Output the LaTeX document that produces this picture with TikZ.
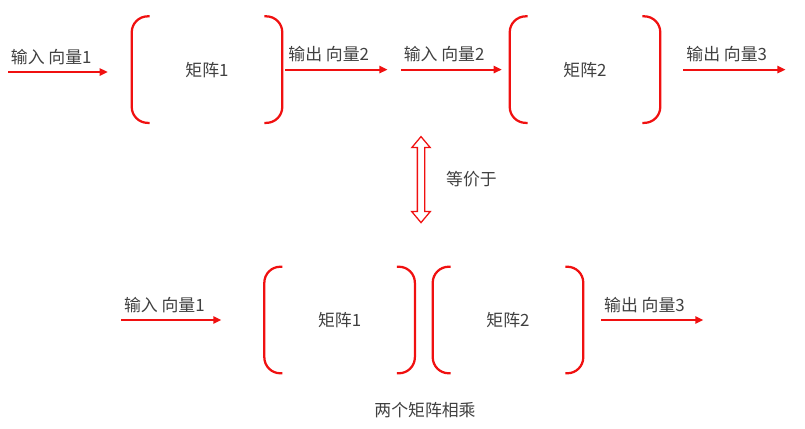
\documentclass[tikz,border=0pt]{standalone}
\usepackage{fontspec}
\newfontfamily\cjk{Noto Sans CJK SC}
\definecolor{ink}{HTML}{404040}
\definecolor{redc}{HTML}{F01010}
\usetikzlibrary{arrows.meta,positioning,calc,shapes.arrows}

\begin{document}
\begin{tikzpicture}[every node/.style={font=\cjk\fontsize{12}{14}\selectfont,text=ink}]
\tikzstyle{mat}=[minimum width=3.75cm,minimum height=2.65cm,inner sep=0pt]
\tikzstyle{vec}=[-{Triangle[length=2mm,width=1.8mm]},line width=1.3pt,redc]
\tikzstyle{lbl}=[above right,inner sep=0pt,yshift=1.6mm,xshift=0.5mm]
\useasboundingbox (0,0) rectangle (20.125,-10.7);
% top row
\node[mat] (m1) at (5.175,-1.74) {矩阵1};
\node[mat] (m2) at (14.625,-1.74) {矩阵2};
% bottom row
\node[mat] (b1) at (8.49,-8.0) {矩阵1};
\node[mat] (b2) at (12.7,-8.0) {矩阵2};
\foreach \m in {m1,m2,b1,b2}{
  \draw[redc,line width=1.6pt,rounded corners=4mm] ([xshift=4.5mm]\m.north west)--(\m.north west)--(\m.south west)--([xshift=4.5mm]\m.south west);
  \draw[redc,line width=1.6pt,rounded corners=4mm] ([xshift=-4.5mm]\m.north east)--(\m.north east)--(\m.south east)--([xshift=-4.5mm]\m.south east);
}
\coordinate (in1) at (0.2,-1.8);
\draw[vec] (in1) node[lbl] (tin1) {输入 向量1} -- (in1-|{$(m1.west)+(-6mm,0)$});
\draw[vec] ([xshift=0.8mm]m1.east) node[lbl] (tout2) {输出 向量2} -- ++(2.55cm,0) coordinate (out2);
\draw[vec] ([xshift=-2.72cm]m2.west) node[lbl] (tin2) {输入 向量2} -- ([xshift=-2mm]m2.west);
\draw[vec] ([xshift=5.8mm]m2.east) node[lbl] (tout3) {输出 向量3} -- ++(2.55cm,0) coordinate (out3);
% equivalence
\node[double arrow,draw=redc,fill=white,line width=0.9pt,shape border rotate=90,minimum height=2.15cm,minimum width=0.42cm,double arrow head extend=0.14cm,double arrow tip angle=80,inner sep=0.75mm] (eq) at (10.525,-4.49) {};
\node[right=4mm of eq] (teq) {等价于};
% product
\draw[vec] ([xshift=-3.58cm]b1.west) node[lbl] (bin1) {输入 向量1} -- ([xshift=-10.75mm]b1.west);
\draw[vec] ([xshift=4.5mm]b2.east) node[lbl] (bout3) {输出 向量3} -- ++(2.55cm,0) coordinate (bend);
\node (prod) at (10.625,-10.25) {两个矩阵相乘};
\end{tikzpicture}
\end{document}
